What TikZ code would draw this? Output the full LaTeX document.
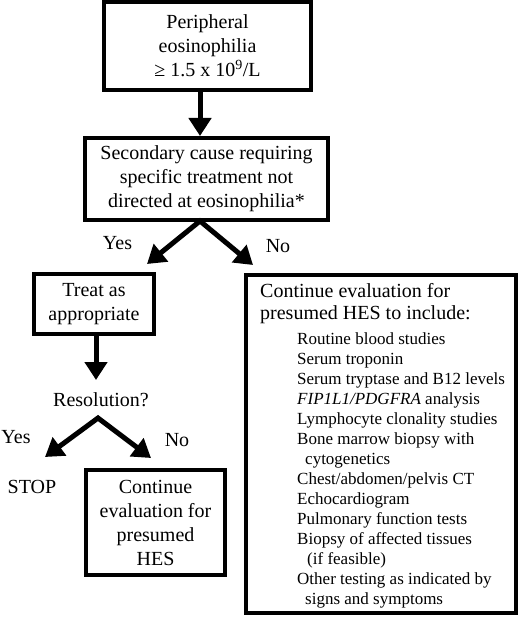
\documentclass[tikz,border=0pt]{standalone}
\usepackage{fontspec}
\setmainfont{Liberation Serif}
\usetikzlibrary{arrows.meta}
\begin{document}
\begin{tikzpicture}[x=1pt,y=-1pt,
  box/.style={draw, line width=3.5pt, inner sep=0pt, align=center, font=\fontsize{20}{24}\selectfont},
  arr/.style={line width=5pt, -{Triangle[length=18pt,width=22pt]}},
  darr/.style={line width=5pt, line join=miter, {Triangle[length=18pt,width=22pt]}-{Triangle[length=18pt,width=22pt]}},
  lbl/.style={font=\fontsize{20}{24}\selectfont, inner sep=0pt, anchor=base}]
\useasboundingbox (0,0) rectangle (520,617);
\fill[white] (0,0) rectangle (520,617);

\node[box, minimum width=207pt, minimum height=88pt] (b1) at (207.5,46)
  {Peripheral\\eosinophilia\\≥ 1.5 x 10\textsuperscript{9}/L};
\node[box, minimum width=243pt, minimum height=82pt] (b2) at (206.5,179)
  {Secondary cause requiring\\specific treatment not\\directed at eosinophilia*};
\node[box, minimum width=120pt, minimum height=60pt] (treat) at (94,304)
  {Treat as\\appropriate};
\node[box, minimum width=139pt, minimum height=105pt] (cont) at (155.5,522.5)
  {Continue\\evaluation for\\presumed\\HES};
\node[draw, line width=3.5pt, minimum width=270pt, minimum height=338pt, inner sep=0pt] (big) at (381,444) {};

\node[anchor=base west, inner sep=0pt] (bigtext) at (260,297) {\fontsize{17}{20}\selectfont
\begin{tabular}[t]{@{}l@{}}
{\fontsize{20}{22}\selectfont Continue evaluation for}\\[2pt]
{\fontsize{20}{22}\selectfont presumed HES to include:}\\[5pt]
\hspace*{37pt}Routine blood studies\\
\hspace*{37pt}Serum troponin\\
\hspace*{37pt}Serum tryptase and B12 levels\\
\hspace*{37pt}\textit{FIP1L1/PDGFRA} analysis\\
\hspace*{37pt}Lymphocyte clonality studies\\
\hspace*{37pt}Bone marrow biopsy with\\
\hspace*{45pt}cytogenetics\\
\hspace*{37pt}Chest/abdomen/pelvis CT\\
\hspace*{37pt}Echocardiogram\\
\hspace*{37pt}Pulmonary function tests\\
\hspace*{37pt}Biopsy of affected tissues\\
\hspace*{47pt}(if feasible)\\
\hspace*{37pt}Other testing as indicated by\\
\hspace*{45pt}signs and symptoms
\end{tabular}};

\node[lbl] (yes1) at (117.5,250) {Yes};
\node[lbl] (no1) at (278,252) {No};
\node[lbl] (res) at (101,406) {Resolution?};
\node[lbl] (yes2) at (16,443) {Yes};
\node[lbl] (no2) at (177,446) {No};
\node[lbl] (stop) at (32,493) {STOP};

\coordinate (a1s) at (200,90);
\coordinate (a1e) at (200,136);
\coordinate (apex1) at (200,221);
\coordinate (tipL1) at (147,264);
\coordinate (tipR1) at (253,265);
\coordinate (a2s) at (96,334);
\coordinate (a2e) at (96,380);
\coordinate (apex2) at (98,418);
\coordinate (tipL2) at (45,457);
\coordinate (tipR2) at (151,458);

\draw[arr] (a1s) -- (a1e);
\draw[darr] (tipL1) -- (apex1) -- (tipR1);
\draw[arr] (a2s) -- (a2e);
\draw[darr] (tipL2) -- (apex2) -- (tipR2);
\end{tikzpicture}
\end{document}
